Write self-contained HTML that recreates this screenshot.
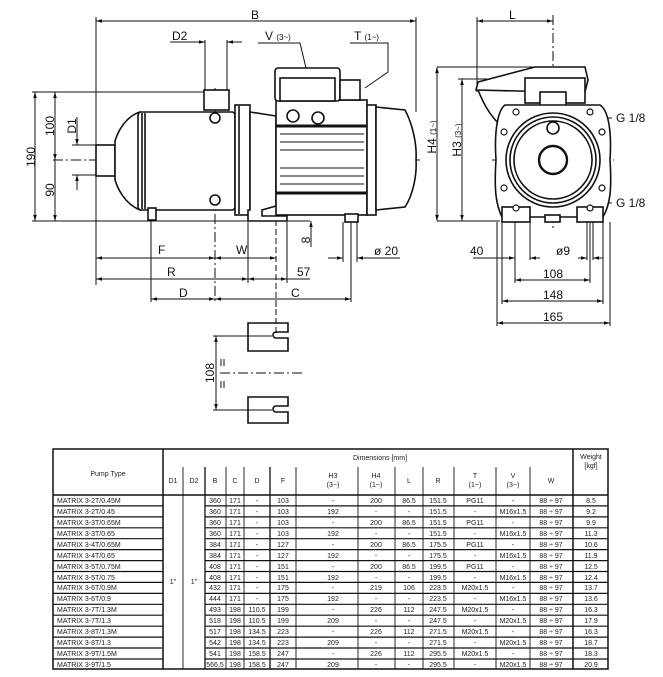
<!DOCTYPE html>
<html><head><meta charset="utf-8"><style>
html,body{margin:0;padding:0;background:#fff;}
svg{display:block;font-family:"Liberation Sans",sans-serif;}
</style></head><body>
<svg width="663" height="677" viewBox="0 0 663 677" xmlns="http://www.w3.org/2000/svg">
<defs>
<marker id="a" viewBox="0 0 10 10" refX="10" refY="5" markerWidth="6" markerHeight="6" orient="auto-start-reverse"><path d="M0,2 L10,5 L0,8 z" fill="#111"/></marker>
</defs>
<g stroke="#111" fill="none" stroke-width="1">
<line x1="96" y1="21" x2="416" y2="21" marker-start="url(#a)" marker-end="url(#a)"/>
<line x1="96" y1="17" x2="96" y2="285"/>
<line x1="416" y1="17" x2="416" y2="112"/>
<line x1="170" y1="42" x2="205" y2="42" marker-end="url(#a)"/>
<line x1="227" y1="42" x2="242" y2="42" marker-start="url(#a)"/>
<line x1="205" y1="40" x2="205" y2="92"/><line x1="227" y1="40" x2="227" y2="92"/>
<polyline points="258,43 300,43 318,118"/>
<polyline points="350,43 388,43 388,72 365,88"/>
<line x1="53" y1="160" x2="420" y2="160" stroke-dasharray="10,3,2,3"/>
<line x1="215" y1="88" x2="215" y2="302" stroke-dasharray="10,3,2,3"/>
<line x1="276" y1="220" x2="276" y2="310" stroke-dasharray="6,3"/>
<line x1="32" y1="221" x2="310" y2="221"/>
<line x1="32" y1="92" x2="210" y2="92"/>
<line x1="35" y1="92" x2="35" y2="221" marker-start="url(#a)" marker-end="url(#a)"/>
<line x1="55" y1="92" x2="55" y2="160" marker-start="url(#a)" marker-end="url(#a)"/>
<line x1="55" y1="160" x2="55" y2="221" marker-end="url(#a)"/>
<line x1="72" y1="145" x2="96" y2="145"/><line x1="72" y1="175" x2="96" y2="175"/>
<line x1="77" y1="117" x2="77" y2="145" marker-end="url(#a)"/>
<line x1="77" y1="175" x2="77" y2="190" marker-start="url(#a)"/>
<line x1="151" y1="212" x2="151" y2="302"/>
<line x1="248" y1="222" x2="248" y2="283"/>
<line x1="287" y1="222" x2="287" y2="283"/>
<line x1="343" y1="222" x2="343" y2="262"/><line x1="357" y1="222" x2="357" y2="262"/>
<line x1="351" y1="222" x2="351" y2="302"/>
<line x1="96" y1="258" x2="215" y2="258" marker-start="url(#a)" marker-end="url(#a)"/>
<line x1="215" y1="258" x2="276" y2="258" marker-start="url(#a)" marker-end="url(#a)"/>
<line x1="96" y1="279" x2="248" y2="279" marker-start="url(#a)" marker-end="url(#a)"/>
<line x1="248" y1="279" x2="287" y2="279" marker-start="url(#a)" marker-end="url(#a)"/>
<line x1="287" y1="279" x2="310" y2="279"/>
<line x1="151" y1="299" x2="215" y2="299" marker-start="url(#a)" marker-end="url(#a)"/>
<line x1="215" y1="299" x2="351" y2="299" marker-start="url(#a)" marker-end="url(#a)"/>
<line x1="328" y1="258" x2="343" y2="258" marker-end="url(#a)"/>
<line x1="357" y1="258" x2="400" y2="258" marker-start="url(#a)"/>
<line x1="311" y1="205" x2="311" y2="215" marker-end="url(#a)"/>
<line x1="311" y1="221" x2="311" y2="247" marker-start="url(#a)"/>
<line x1="437" y1="67" x2="437" y2="221" marker-start="url(#a)" marker-end="url(#a)"/>
</g>
<g stroke="#111" fill="#fff" stroke-width="1.6">
<rect x="96" y="145" width="19" height="31"/>
<path d="M115,141 C120,125 130,115 140,112 L140,210 C130,206 120,196 115,180 Z"/>
<rect x="138" y="112" width="97" height="98" rx="3"/>
<line x1="142" y1="113" x2="142" y2="209"/><line x1="145" y1="113" x2="145" y2="209"/>
<rect x="204" y="90" width="25" height="20"/>
<circle cx="215" cy="118" r="5"/><circle cx="215" cy="200" r="5"/>
<rect x="148" y="208" width="8" height="12"/>
<rect x="235" y="105" width="15" height="110"/>
<line x1="239" y1="106" x2="239" y2="214"/>
<path d="M250,112 L276,116 L276,206 L262,210 L262,216 L287,216 L287,221 L248,221 L248,210 L250,210 Z"/>
<rect x="276" y="100" width="91" height="115"/>
<rect x="275" y="68" width="65" height="33" rx="3"/>
<rect x="280" y="78" width="55" height="23"/>
<rect x="340" y="80" width="20" height="20"/>
<circle cx="293" cy="116" r="6"/><circle cx="318" cy="118" r="6"/>
<rect x="367" y="105" width="9" height="110"/>
<path d="M376,107 L405,110 C413,125 417,145 416,160 C417,175 413,195 405,207 L376,210 Z"/>
<rect x="345" y="214" width="13" height="8"/>
</g>
<g stroke="#111" stroke-width="1.1">
<line x1="276" y1="126" x2="367" y2="126" stroke-width="3"/>
<line x1="276" y1="193" x2="367" y2="193" stroke-width="3"/>
<line x1="280" y1="134" x2="364" y2="134"/><line x1="280" y1="142" x2="364" y2="142"/>
<line x1="280" y1="150" x2="364" y2="150"/><line x1="280" y1="168" x2="364" y2="168"/>
<line x1="280" y1="176" x2="364" y2="176"/><line x1="280" y1="184" x2="364" y2="184"/>
</g>
<g stroke="#111" fill="none" stroke-width="1">
<line x1="477" y1="21" x2="553" y2="21" marker-start="url(#a)" marker-end="url(#a)"/>
<line x1="477" y1="17" x2="477" y2="92"/>
<line x1="553" y1="15" x2="553" y2="228" stroke-dasharray="10,3,2,3"/>
<line x1="492" y1="160" x2="614" y2="160" stroke-dasharray="10,3,2,3"/>
<line x1="437" y1="67" x2="585" y2="67"/>
<line x1="458" y1="79" x2="520" y2="79"/>
<line x1="437" y1="221" x2="500" y2="221"/>
<line x1="462" y1="79" x2="462" y2="221" marker-start="url(#a)" marker-end="url(#a)"/>
<line x1="497" y1="222" x2="497" y2="326"/><line x1="610" y1="222" x2="610" y2="326"/>
<line x1="502" y1="222" x2="502" y2="304"/><line x1="603" y1="222" x2="603" y2="304"/>
<line x1="515" y1="222" x2="515" y2="283"/><line x1="590" y1="222" x2="590" y2="283"/>
<line x1="530" y1="222" x2="530" y2="260"/>
<line x1="587" y1="222" x2="587" y2="260"/><line x1="593" y1="222" x2="593" y2="260"/>
<line x1="473" y1="258" x2="515" y2="258"/>
<line x1="506" y1="258" x2="515" y2="258" marker-end="url(#a)"/>
<line x1="540" y1="258" x2="530" y2="258" marker-end="url(#a)"/>
<line x1="578" y1="258" x2="587" y2="258" marker-end="url(#a)"/>
<line x1="593" y1="258" x2="603" y2="258" marker-start="url(#a)"/>
<line x1="515" y1="280" x2="590" y2="280" marker-start="url(#a)" marker-end="url(#a)"/>
<line x1="502" y1="301" x2="603" y2="301" marker-start="url(#a)" marker-end="url(#a)"/>
<line x1="497" y1="323" x2="610" y2="323" marker-start="url(#a)" marker-end="url(#a)"/>
<line x1="600" y1="118" x2="612" y2="118"/><line x1="600" y1="203" x2="612" y2="203"/>
</g>
<g stroke="#111" fill="#fff" stroke-width="1.6">
<path d="M476,90 L478,82 L535,67 L585,67 L588,80 L585,92 L560,92 Z"/>
<path d="M478,90 C484,105 490,115 500,125"/>
<rect x="525" y="78" width="60" height="25"/>
<rect x="540" y="92" width="26" height="18"/>
<path d="M505,105 L600,105 C608,110 612,130 610,160 C612,190 610,205 603,217 L502,217 C496,205 494,190 496,160 C494,130 498,110 505,105 Z"/>
<circle cx="553" cy="160" r="47"/><circle cx="553" cy="160" r="43"/><circle cx="553" cy="160" r="39"/>
<circle cx="553" cy="160" r="14" stroke-width="2.4"/>
<circle cx="553" cy="128" r="6"/>
<rect x="502" y="207" width="28" height="15"/><rect x="577" y="207" width="26" height="15"/>
<rect x="545" y="215" width="15" height="7"/>
</g>
<g fill="#fff" stroke="#111" stroke-width="1.2">
<circle cx="516" cy="112" r="3"/><circle cx="590" cy="112" r="3"/>
<circle cx="504" cy="132" r="3"/><circle cx="602" cy="132" r="3"/>
<circle cx="504" cy="188" r="3"/><circle cx="602" cy="188" r="3"/>
<circle cx="516" cy="208" r="3"/><circle cx="590" cy="208" r="3"/>
</g>
<g stroke="#111" fill="none" stroke-width="1">
<line x1="276" y1="300" x2="276" y2="335" stroke-dasharray="6,3"/>
<line x1="220" y1="373" x2="303" y2="373" stroke-dasharray="10,3,2,3"/>
<line x1="213" y1="336" x2="272" y2="336"/><line x1="213" y1="410" x2="272" y2="410"/>
<line x1="216" y1="336" x2="216" y2="410" marker-start="url(#a)" marker-end="url(#a)"/>
<line x1="221" y1="359" x2="221" y2="366"/><line x1="224" y1="359" x2="224" y2="366"/>
<line x1="221" y1="381" x2="221" y2="388"/><line x1="224" y1="381" x2="224" y2="388"/>
</g>
<g stroke="#111" fill="none" stroke-width="1.6">
<path d="M248,323 H288 V332 H276 A3,3 0 0 0 276,338 H288 V351 H248 Z"/>
<path d="M248,397 H288 V406 H276 A3,3 0 0 0 276,412 H288 V423 H248 Z"/>
</g>
<g font-size="12" fill="#111">
<text x="251" y="19">B</text>
<text x="172" y="40">D2</text>
<text x="265" y="40">V <tspan font-size="8">(3~)</tspan></text>
<text x="354" y="40">T <tspan font-size="8">(1~)</tspan></text>
<text x="158" y="254">F</text>
<text x="236" y="254">W</text>
<text x="167" y="276">R</text>
<text x="297" y="276">57</text>
<text x="179" y="297">D</text>
<text x="291" y="297">C</text>
<text x="374" y="255">ø 20</text>
<text x="509" y="19">L</text>
<text x="616" y="122">G 1/8</text>
<text x="616" y="207">G 1/8</text>
<text x="470" y="255">40</text>
<text x="556" y="255">ø9</text>
<text x="543" y="278">108</text>
<text x="543" y="299">148</text>
<text x="543" y="321">165</text>
<text transform="translate(35,157) rotate(-90)" text-anchor="middle">190</text>
<text transform="translate(54,126) rotate(-90)" text-anchor="middle">100</text>
<text transform="translate(54,190) rotate(-90)" text-anchor="middle">90</text>
<text transform="translate(76,126) rotate(-90)" text-anchor="middle">D1</text>
<text transform="translate(310,240) rotate(-90)" text-anchor="middle">8</text>
<text transform="translate(436,137) rotate(-90)" text-anchor="middle">H4 <tspan font-size="8">(1~)</tspan></text>
<text transform="translate(461,140) rotate(-90)" text-anchor="middle">H3 <tspan font-size="8">(3~)</tspan></text>
<text transform="translate(214,373) rotate(-90)" text-anchor="middle">108</text>
</g>
<g stroke="#111" fill="none">
<rect x="53" y="449" width="555" height="220" stroke-width="1.5"/>
<line x1="53" y1="495" x2="608" y2="495" stroke-width="1.5"/>
<line x1="163" y1="449" x2="163" y2="669" stroke-width="1.5"/>
<line x1="573" y1="449" x2="573" y2="669" stroke-width="1.5"/>
<g stroke-width="0.9">
<line x1="183" y1="467" x2="183" y2="669"/>
<line x1="205" y1="467" x2="205" y2="669" stroke-width="1.3"/>
<line x1="226" y1="467" x2="226" y2="669"/>
<line x1="244" y1="467" x2="244" y2="669"/>
<line x1="270" y1="467" x2="270" y2="669" stroke-width="1.3"/>
<line x1="296" y1="467" x2="296" y2="669"/>
<line x1="358" y1="467" x2="358" y2="669"/>
<line x1="395" y1="467" x2="395" y2="669"/>
<line x1="423" y1="467" x2="423" y2="669"/>
<line x1="454" y1="467" x2="454" y2="669"/>
<line x1="496" y1="467" x2="496" y2="669"/>
<line x1="530" y1="467" x2="530" y2="669"/>
</g>
<path stroke-width="1.2" d="M53,505.9H163M205,505.9H608M53,516.9H163M205,516.9H608M53,527.8H163M205,527.8H608M53,538.7H163M205,538.7H608M53,549.6H163M205,549.6H608M53,560.6H163M205,560.6H608M53,571.5H163M205,571.5H608M53,582.4H163M205,582.4H608M53,593.4H163M205,593.4H608M53,604.3H163M205,604.3H608M53,615.2H163M205,615.2H608M53,626.2H163M205,626.2H608M53,637.1H163M205,637.1H608M53,648H163M205,648H608M53,659H163M205,659H608"/>
</g>
<g font-size="7" fill="#222" text-anchor="middle">
<text x="108" y="476">Pump Type</text>
<text x="380" y="460">Dimensions [mm]</text>
<text x="591" y="459">Weight</text><text x="591" y="468">[kgf]</text>
<text x="173" y="483">D1</text><text x="194" y="483">D2</text>
<text x="215" y="483">B</text><text x="235" y="483">C</text><text x="257" y="483">D</text><text x="283" y="483">F</text>
<text x="333" y="478">H3</text><text x="333" y="487">(3~)</text>
<text x="376" y="478">H4</text><text x="376" y="487">(1~)</text>
<text x="409" y="483">L</text><text x="438" y="483">R</text>
<text x="475" y="478">T</text><text x="475" y="487">(1~)</text>
<text x="513" y="478">V</text><text x="513" y="487">(3~)</text>
<text x="551" y="483">W</text>
<text x="173" y="584">1"</text><text x="194" y="584">1"</text>
</g>
<g font-size="7" fill="#222">
<text x="57" y="503">MATRIX 3-2T/0.45M</text>
<text x="57" y="514">MATRIX 3-2T/0.45</text>
<text x="57" y="525">MATRIX 3-3T/0.65M</text>
<text x="57" y="536">MATRIX 3-3T/0.65</text>
<text x="57" y="547">MATRIX 3-4T/0.65M</text>
<text x="57" y="558">MATRIX 3-4T/0.65</text>
<text x="57" y="569">MATRIX 3-5T/0.75M</text>
<text x="57" y="580">MATRIX 3-5T/0.75</text>
<text x="57" y="590">MATRIX 3-6T/0.9M</text>
<text x="57" y="601">MATRIX 3-6T/0.9</text>
<text x="57" y="612">MATRIX 3-7T/1.3M</text>
<text x="57" y="623">MATRIX 3-7T/1.3</text>
<text x="57" y="634">MATRIX 3-8T/1.3M</text>
<text x="57" y="645">MATRIX 3-8T/1.3</text>
<text x="57" y="656">MATRIX 3-9T/1.5M</text>
<text x="57" y="667">MATRIX 3-9T/1.5</text>
</g>
<g font-size="7" fill="#222" text-anchor="middle">
<g transform="translate(0,503)"><text x="215">360</text><text x="235">171</text><text x="257">-</text><text x="283">103</text><text x="333">-</text><text x="376">200</text><text x="409">86.5</text><text x="438">151.5</text><text x="475">PG11</text><text x="513">-</text><text x="551">88 ÷ 97</text><text x="591">8.5</text></g>
<g transform="translate(0,514)"><text x="215">360</text><text x="235">171</text><text x="257">-</text><text x="283">103</text><text x="333">192</text><text x="376">-</text><text x="409">-</text><text x="438">151.5</text><text x="475">-</text><text x="513">M16x1.5</text><text x="551">88 ÷ 97</text><text x="591">9.2</text></g>
<g transform="translate(0,525)"><text x="215">360</text><text x="235">171</text><text x="257">-</text><text x="283">103</text><text x="333">-</text><text x="376">200</text><text x="409">86.5</text><text x="438">151.5</text><text x="475">PG11</text><text x="513">-</text><text x="551">88 ÷ 97</text><text x="591">9.9</text></g>
<g transform="translate(0,536)"><text x="215">360</text><text x="235">171</text><text x="257">-</text><text x="283">103</text><text x="333">192</text><text x="376">-</text><text x="409">-</text><text x="438">151.5</text><text x="475">-</text><text x="513">M16x1.5</text><text x="551">88 ÷ 97</text><text x="591">11.3</text></g>
<g transform="translate(0,547)"><text x="215">384</text><text x="235">171</text><text x="257">-</text><text x="283">127</text><text x="333">-</text><text x="376">200</text><text x="409">86.5</text><text x="438">175.5</text><text x="475">PG11</text><text x="513">-</text><text x="551">88 ÷ 97</text><text x="591">10.6</text></g>
<g transform="translate(0,558)"><text x="215">384</text><text x="235">171</text><text x="257">-</text><text x="283">127</text><text x="333">192</text><text x="376">-</text><text x="409">-</text><text x="438">175.5</text><text x="475">-</text><text x="513">M16x1.5</text><text x="551">88 ÷ 97</text><text x="591">11.9</text></g>
<g transform="translate(0,569)"><text x="215">408</text><text x="235">171</text><text x="257">-</text><text x="283">151</text><text x="333">-</text><text x="376">200</text><text x="409">86.5</text><text x="438">199.5</text><text x="475">PG11</text><text x="513">-</text><text x="551">88 ÷ 97</text><text x="591">12.5</text></g>
<g transform="translate(0,580)"><text x="215">408</text><text x="235">171</text><text x="257">-</text><text x="283">151</text><text x="333">192</text><text x="376">-</text><text x="409">-</text><text x="438">199.5</text><text x="475">-</text><text x="513">M16x1.5</text><text x="551">88 ÷ 97</text><text x="591">12.4</text></g>
<g transform="translate(0,590)"><text x="215">432</text><text x="235">171</text><text x="257">-</text><text x="283">175</text><text x="333">-</text><text x="376">219</text><text x="409">106</text><text x="438">223.5</text><text x="475">M20x1.5</text><text x="513">-</text><text x="551">88 ÷ 97</text><text x="591">13.7</text></g>
<g transform="translate(0,601)"><text x="215">444</text><text x="235">171</text><text x="257">-</text><text x="283">175</text><text x="333">192</text><text x="376">-</text><text x="409">-</text><text x="438">223.5</text><text x="475">-</text><text x="513">M16x1.5</text><text x="551">88 ÷ 97</text><text x="591">13.6</text></g>
<g transform="translate(0,612)"><text x="215">493</text><text x="235">198</text><text x="257">110.5</text><text x="283">199</text><text x="333">-</text><text x="376">226</text><text x="409">112</text><text x="438">247.5</text><text x="475">M20x1.5</text><text x="513">-</text><text x="551">88 ÷ 97</text><text x="591">16.3</text></g>
<g transform="translate(0,623)"><text x="215">518</text><text x="235">198</text><text x="257">110.5</text><text x="283">199</text><text x="333">209</text><text x="376">-</text><text x="409">-</text><text x="438">247.5</text><text x="475">-</text><text x="513">M20x1.5</text><text x="551">88 ÷ 97</text><text x="591">17.9</text></g>
<g transform="translate(0,634)"><text x="215">517</text><text x="235">198</text><text x="257">134.5</text><text x="283">223</text><text x="333">-</text><text x="376">226</text><text x="409">112</text><text x="438">271.5</text><text x="475">M20x1.5</text><text x="513">-</text><text x="551">88 ÷ 97</text><text x="591">16.3</text></g>
<g transform="translate(0,645)"><text x="215">542</text><text x="235">198</text><text x="257">134.5</text><text x="283">223</text><text x="333">209</text><text x="376">-</text><text x="409">-</text><text x="438">271.5</text><text x="475">-</text><text x="513">M20x1.5</text><text x="551">88 ÷ 97</text><text x="591">18.7</text></g>
<g transform="translate(0,656)"><text x="215">541</text><text x="235">198</text><text x="257">158.5</text><text x="283">247</text><text x="333">-</text><text x="376">226</text><text x="409">112</text><text x="438">295.5</text><text x="475">M20x1.5</text><text x="513">-</text><text x="551">88 ÷ 97</text><text x="591">18.3</text></g>
<g transform="translate(0,667)"><text x="215">566,5</text><text x="235">198</text><text x="257">158.5</text><text x="283">247</text><text x="333">209</text><text x="376">-</text><text x="409">-</text><text x="438">295.5</text><text x="475">-</text><text x="513">M20x1.5</text><text x="551">88 ÷ 97</text><text x="591">20.9</text></g>
</g>
</svg>
</body></html>
